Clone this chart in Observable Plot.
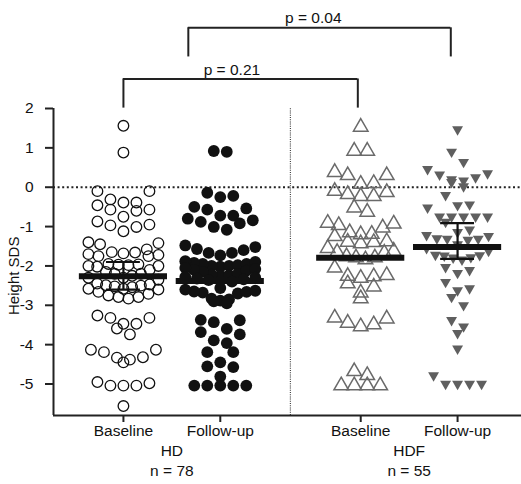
<!DOCTYPE html>
<html>
<head>
<meta charset="utf-8">
<script src="https://cdn.jsdelivr.net/npm/d3@7"></script>
<script src="https://cdn.jsdelivr.net/npm/@observablehq/plot@0.6"></script>
<style>
  html, body { margin: 0; padding: 0; background: #fff; }
  #chart { width: 521px; height: 484px; }
</style>
</head>
<body>
<div id="chart"></div>
<script>
// ---------- data ----------
const groupLabels = ["Baseline", "Follow-up", "Baseline", "Follow-up"];
const studyLabels = ["HD", "HDF"];
const studyN = ["n = 78", "n = 55"];
const yTicks = [2, 1, 0, -1, -2, -3, -4, -5];
const yLabel = "Height SDS";

const hdBaseline = [
  1.56, 0.88,
  -0.10, -0.10,
  -0.31, -0.39, -0.39, -0.46,
  -0.57, -0.60, -0.57,
  -0.75,
  -0.87, -0.97, -1.01, -0.95, -1.12,
  -1.40, -1.45, -1.42, -1.58,
  -1.65, -1.68, -1.72, -1.75, -1.75, -1.70, -1.66,
  -1.95, -1.97, -2.00, -2.00, -2.02, -1.98, -1.96,
  -2.10, -2.15, -2.20, -2.20, -2.25, -2.30, -2.30, -2.35,
  -2.45, -2.47, -2.49, -2.50, -2.52, -2.54, -2.58, -2.58, -2.60,
  -2.66, -2.71, -2.75, -2.79, -2.79, -2.83,
  -3.26, -3.32, -3.32, -3.47, -3.47, -3.59, -3.74,
  -4.13, -4.13, -4.19, -4.32, -4.33, -4.38, -4.45,
  -4.95, -4.98, -5.04, -5.04, -5.04,
  -5.56
];
const hdFollowup = [
  0.92, 0.90,
  -0.14, -0.22, -0.25,
  -0.50, -0.54, -0.57,
  -0.72, -0.72,
  -0.80, -0.84, -0.88, -0.92, -1.01, -1.08,
  -1.48, -1.52, -1.57, -1.60, -1.67, -1.67, -1.73,
  -1.88, -1.90, -1.92, -1.95, -1.95, -1.98, -2.00, -2.00, -2.02, -2.05, -2.08, -2.10, -2.12, -2.15,
  -2.20, -2.22, -2.24, -2.25, -2.28, -2.30, -2.32, -2.34, -2.36, -2.40,
  -2.56, -2.60, -2.63, -2.65, -2.66, -2.68, -2.70,
  -2.83, -2.88, -2.95, -2.90, -2.85,
  -3.37, -3.38, -3.43,
  -3.60, -3.68, -3.74,
  -3.89, -3.96,
  -4.19, -4.19,
  -4.45, -4.55, -4.57,
  -4.81,
  -5.04, -5.04, -5.04, -5.04, -5.04
];
const hdfBaseline = [
  1.53,
  0.92, 0.92,
  0.30, 0.38, 0.30,
  0.10, 0.08,
  -0.10, -0.13, -0.18, -0.23, -0.23,
  -0.52, -0.63,
  -0.91, -0.93, -0.97, -1.03,
  -1.15, -1.19, -1.20, -1.25,
  -1.38, -1.39, -1.40, -1.43,
  -1.55,
  -1.62, -1.65, -1.67, -1.76, -1.79, -1.79, -1.84,
  -2.05, -2.24, -2.26, -2.27, -2.31, -2.45, -2.53, -2.68, -2.83,
  -3.32, -3.34, -3.45, -3.49, -3.54,
  -4.68, -4.78, -5.04, -5.04, -5.04, -5.04
];
const hdfFollowup = [
  1.47,
  0.90,
  0.64, 0.46, 0.35, 0.32, 0.25, 0.20, 0.17, 0.13, 0.02,
  -0.20,
  -0.44, -0.46, -0.52,
  -0.75, -0.75, -0.75, -0.75, -0.75, -0.88,
  -1.08, -1.14, -1.22, -1.24, -1.30, -1.31, -1.31, -1.34,
  -1.45, -1.55, -1.62,
  -1.72, -1.73, -1.74, -1.78, -1.79, -1.84,
  -2.03, -2.11, -2.18,
  -2.41, -2.57, -2.62, -2.79,
  -3.00,
  -3.38, -3.54, -3.71,
  -4.10,
  -4.78, -5.00, -5.00, -5.00, -5.00
];
const means = [-2.26, -2.38, -1.79, -1.52];
const ciLow = [-2.60, null, null, -1.82];
const ciHigh = [-1.90, null, null, -0.91];
const pLabels = ["p = 0.21", "p = 0.04"];

// ---------- layout constants ----------
const W = 521, H = 484;
const mL = 53, mR = 0, mT = 108, mB = 69;
const xDomain = [0.278, 5.11];
const yDomain = [-5.8, 2];
const groupX = [1, 2, 3.45, 4.45];
const studyX = [1.5, 3.95];
const sepX = 2.724;
const kx = (W - mL - mR) / (xDomain[1] - xDomain[0]);
const font = "'Liberation Sans', Arial, Helvetica, sans-serif";
const FS = 15.5;
const grey = "#5f5f5f";

// scatter layout (Prism-like): values grouped into rows, spread sideways,
// lowest value of a row in the middle
function scatterRows(values, gi, rowSize, maxN, step, maxW) {
  const sorted = values.slice().sort((a, b) => b - a);
  const rows = [];
  let cur = [];
  for (const v of sorted) {
    if (cur.length && (cur[0] - v > rowSize || cur.length >= maxN)) { rows.push(cur); cur = []; }
    cur.push(v);
  }
  if (cur.length) rows.push(cur);
  const out = [];
  for (const row of rows) {
    const n = row.length;
    const s = n > 1 ? Math.min(step, maxW / (n - 1)) : 0;
    const slots = d3.range(n).map(k => (k - (n - 1) / 2) * s);
    slots.sort((a, b) => Math.abs(a) - Math.abs(b) || b - a);
    const asc = row.slice().sort((a, b) => a - b);
    asc.forEach((v, k) => out.push({value: v, x: groupX[gi] + slots[k] / kx}));
  }
  return out;
}

const ptsHDB = scatterRows(hdBaseline, 0, 0.3, 9, 13, 70);
const ptsHDF = scatterRows(hdFollowup, 1, 0.3, 9, 13, 70);
const ptsHDFB = scatterRows(hdfBaseline, 2, 0.3, 8, 13, 66);
const ptsHDFF = scatterRows(hdfFollowup, 3, 0.3, 8, 12, 62);

const triDown = {
  draw(ctx, size) {
    const s = Math.sqrt(size) * 0.6824, t = s / 2, u = s * Math.sqrt(3) / 2;
    ctx.moveTo(0, s);
    ctx.lineTo(u, -t);
    ctx.lineTo(-u, -t);
    ctx.closePath();
  }
};

const meanRows = means.map((m, i) => ({x: groupX[i], m}));
const ciRows = means.map((m, i) => ({x: groupX[i], lo: ciLow[i], hi: ciHigh[i]})).filter(d => d.lo != null);
const brackets = [
  {x1: 1, x2: 3.42, top: 2.75, bottom: 2.01, tx: 2.12, ty: 2.98, label: pLabels[0]},
  {x1: 1.67, x2: 4.38, top: 4.05, bottom: 3.31, tx: 2.96, ty: 4.3, label: pLabels[1]}
];
const halfBar = 0.455, halfCap = 0.175;

const chart = Plot.plot({
  width: W, height: H,
  marginLeft: mL, marginRight: mR, marginTop: mT, marginBottom: mB,
  style: {fontFamily: font, fontSize: FS + "px", color: "#111", background: "#fff", overflow: "visible"},
  x: {domain: xDomain, axis: null},
  y: {domain: yDomain, axis: null},
  marks: [
    // reference lines
    Plot.ruleY([0], {x1: xDomain[0], x2: xDomain[1], stroke: "#222", strokeWidth: 2, strokeDasharray: "2,2.6"}),
    Plot.ruleX([sepX], {y1: yDomain[0], y2: yDomain[1], stroke: "#444", strokeWidth: 1.2, strokeDasharray: "1,1.2"}),
    // points
    Plot.dot(ptsHDB, {x: "x", y: "value", r: 5.3, stroke: "#111", strokeWidth: 1.3, fill: "none"}),
    Plot.dot(ptsHDF, {x: "x", y: "value", r: 5.9, fill: "#111", stroke: "none"}),
    Plot.dot(ptsHDFB, {x: "x", y: "value", r: 5.4, symbol: "triangle", stroke: "#6a6a6a", strokeWidth: 1.5, fill: "none"}),
    Plot.dot(ptsHDFF, {x: "x", y: "value", r: 5.2, symbol: triDown, fill: grey, stroke: "none"}),
    // means and 95% CI
    Plot.ruleY(meanRows, {y: "m", x1: d => d.x - halfBar, x2: d => d.x + halfBar, stroke: "#111", strokeWidth: 6}),
    Plot.ruleX(ciRows, {x: "x", y1: "lo", y2: "hi", stroke: "#111", strokeWidth: 2.2}),
    Plot.ruleY(ciRows, {y: "lo", x1: d => d.x - halfCap, x2: d => d.x + halfCap, stroke: "#111", strokeWidth: 2.2}),
    Plot.ruleY(ciRows, {y: "hi", x1: d => d.x - halfCap, x2: d => d.x + halfCap, stroke: "#111", strokeWidth: 2.2}),
    // axes
    Plot.ruleX([xDomain[0]], {y1: yDomain[0], y2: yDomain[1], stroke: "#222", strokeWidth: 2}),
    Plot.ruleY([yDomain[0]], {x1: xDomain[0], x2: xDomain[1], stroke: "#222", strokeWidth: 2}),
    Plot.axisY({ticks: yTicks, tickFormat: d => String(d), tickSize: 8, tickPadding: 12, stroke: "#222", strokeWidth: 2, fontSize: FS, fill: "#111", label: null}),
    Plot.axisX({ticks: groupX, tickFormat: () => "", tickSize: 7, stroke: "#222", strokeWidth: 2, label: null}),
    Plot.text([yLabel], {frameAnchor: "left", y: -2.25, rotate: -90, dx: -39, text: d => d, textAnchor: "middle", fontSize: 15, fill: "#111"}),
    // category labels
    Plot.text(groupLabels, {x: (d, i) => groupX[i], frameAnchor: "bottom", dy: 20.5, text: d => d, fontSize: FS, fill: "#111"}),
    Plot.text(studyLabels, {x: (d, i) => studyX[i], frameAnchor: "bottom", dy: 40, text: d => d, fontSize: FS, fill: "#111"}),
    Plot.text(studyN, {x: (d, i) => studyX[i], frameAnchor: "bottom", dy: 60.5, text: d => d, fontSize: FS, fill: "#111"}),
    // significance brackets
    Plot.ruleY(brackets, {y: "top", x1: "x1", x2: "x2", stroke: "#222", strokeWidth: 2}),
    Plot.ruleX(brackets, {x: "x1", y1: "bottom", y2: "top", stroke: "#222", strokeWidth: 2}),
    Plot.ruleX(brackets, {x: "x2", y1: "bottom", y2: "top", stroke: "#222", strokeWidth: 2}),
    Plot.text(brackets, {x: "tx", y: "ty", text: "label", fontSize: FS, fill: "#111"})
  ]
});
document.getElementById("chart").appendChild(chart);
</script>
</body>
</html>
